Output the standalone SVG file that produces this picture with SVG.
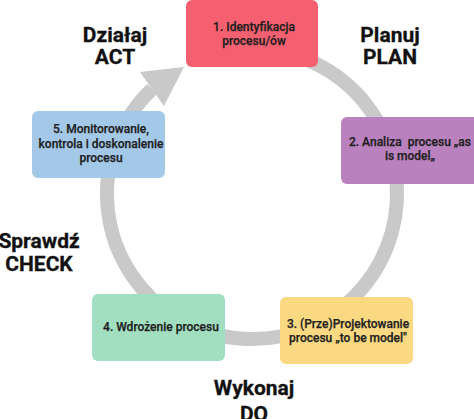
<svg xmlns="http://www.w3.org/2000/svg" width="474" height="419" viewBox="0 0 474 419">
<style>
.box{stroke:none}
.t{font-family:Roboto,"Liberation Sans",sans-serif;font-size:12px;font-weight:500;fill:#1e1e1e;stroke:#1e1e1e;stroke-width:0.25;text-anchor:middle;white-space:pre}
.lab{font-family:Roboto,"Liberation Sans",sans-serif;font-size:21px;font-weight:700;fill:#111;stroke:#111;stroke-width:0.3;text-anchor:middle}
</style>
<rect width="474" height="419" fill="#fff"/>
<g id="connectors">
<path d="M 252 49 A 145 145 0 1 1 152 89" fill="none" stroke="#c9c9c9" stroke-width="14"/>
<polygon points="140,72 184,67 164,106" fill="#c9c9c9"/>
</g>
<g id="node1">
<rect class="box" x="186" y="0" width="132" height="67" rx="6" fill="#f4606f"/>
<text class="t" x="254" y="31">1. Identyfikacja</text>
<text class="t" x="254" y="45">procesu/ów</text>
</g>
<g id="node2">
<rect class="box" x="341" y="117" width="140" height="67" rx="6" fill="#b981bd"/>
<text class="t" x="410" y="146" xml:space="preserve">2. Analiza  procesu „as</text>
<text class="t" x="410" y="160">is model„</text>
</g>
<g id="node3">
<rect class="box" x="280" y="297" width="133" height="67" rx="6" fill="#fbd983"/>
<text class="t" x="348" y="328">3. (Prze)Projektowanie</text>
<text class="t" x="348" y="342">procesu „to be model"</text>
</g>
<g id="node4">
<rect class="box" x="92" y="294" width="133" height="67" rx="6" fill="#a1dfc0"/>
<text class="t" x="161" y="331">4. Wdrożenie procesu</text>
</g>
<g id="node5">
<rect class="box" x="32" y="111" width="133" height="67" rx="6" fill="#a4c8e8"/>
<text class="t" x="101" y="133">5. Monitorowanie,</text>
<text class="t" x="101" y="148">kontrola i doskonalenie</text>
<text class="t" x="101" y="162">procesu</text>
</g>
<g id="labels">
<text class="lab" x="115" y="42">Działaj</text>
<text class="lab" x="115" y="64">ACT</text>
<text class="lab" x="390" y="42">Planuj</text>
<text class="lab" x="390" y="64">PLAN</text>
<text class="lab" x="39" y="248">Sprawdź</text>
<text class="lab" x="39" y="271">CHECK</text>
<text class="lab" x="254" y="395">Wykonaj</text>
<text class="lab" x="254" y="421">DO</text>
</g>
</svg>
